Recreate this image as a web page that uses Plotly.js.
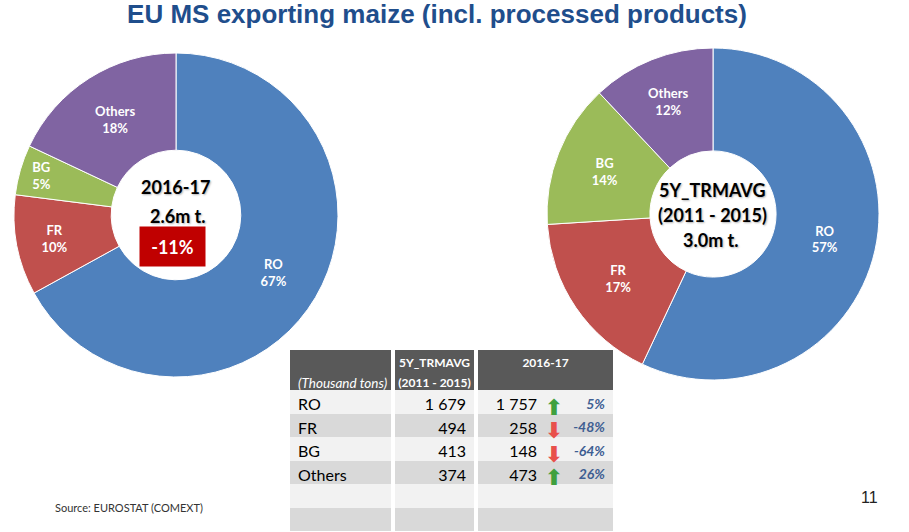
<!DOCTYPE html>
<html><head><meta charset="utf-8">
<script src="https://cdn.plot.ly/plotly-3.0.1.min.js"></script>
<style>html,body{margin:0;padding:0;background:#fff;} #chart{width:909px;height:532px;}</style>
</head><body><div id="chart"></div>
<script>
// ---- data ----
const categories = ["RO", "FR", "BG", "Others"];
const share201617 = [67, 10, 5, 18];     // % shares shown in the left donut
const share5y = [57, 17, 14, 12];        // % shares shown in the right donut
const avg5y = [1679, 494, 413, 374];     // 5Y_TRMAVG (2011-2015), thousand tons
const val201617 = [1757, 258, 148, 473]; // 2016-17, thousand tons
const changeLabels = ["5%", "-48%", "-64%", "26%"];
const centerLeft = ["2016-17", "2.6m t.", "-11%"];
const centerRight = ["5Y_TRMAVG", "(2011 - 2015)", "3.0m t."];
const headerLabels = ["(Thousand tons)", "5Y_TRMAVG", "(2011 - 2015)", "2016-17"];

// ---- styles ----
const sliceColors = ["#4F81BD", "#C0504D", "#9BBB59", "#8064A2"];
const W = 909, H = 532;
const px = x => x / W;
const py = y => 1 - y / H;
const NB = "\u00A0";
const nb = s => s.replace(/ /g, NB);
const fmt = n => String(n).replace(/\B(?=(\d{3})+(?!\d))/g, NB);
const rowFills = ["#F2F2F2", "#D9D9D9", "#F2F2F2", "#D9D9D9", "#F2F2F2", "#D9D9D9"];
const pad2 = arr => arr.concat(["", ""]);
const noLine = {width: 0, color: "rgba(0,0,0,0)"};

const pieCommon = {
  type: "pie", sort: false, direction: "clockwise", rotation: 0,
  labels: categories, texttemplate: "%{label}<br>%{value}%",
  textposition: "inside", insidetextorientation: "horizontal",
  marker: {colors: sliceColors, line: {color: "#ffffff", width: 1}},
  textfont: {family: "Lato", size: 13, color: "#ffffff", weight: "bold"},
  showlegend: false, hoverinfo: "none"
};

const pieLeft = Object.assign({}, pieCommon, {
  values: share201617, hole: 0.40,
  domain: {x: [px(14), px(338)], y: [py(377), py(53)]}
});
const pieRight = Object.assign({}, pieCommon, {
  values: share5y, hole: 0.38,
  domain: {x: [px(547), px(879)], y: [py(380), py(48)]}
});

const tblY = [0, py(350)];
const headerFill = "#595959";
const bodyFont = {family: "Lato", size: 16, color: "#000000"};

const t1 = {
  type: "table", domain: {x: [px(290), px(392)], y: tblY},
  header: {values: [["", nb(headerLabels[0])]], align: "left", height: 20,
           fill: {color: headerFill}, line: noLine,
           font: {family: "Lato", size: 13.5, color: "#ffffff", style: "italic"}},
  cells: {values: [pad2(categories)], align: "left", height: 23.5,
          fill: {color: [rowFills]}, line: noLine, font: bodyFont}
};
const t2 = {
  type: "table", domain: {x: [px(395), px(475)], y: tblY},
  header: {values: [[nb(headerLabels[1]), nb(headerLabels[2])]], align: "center", height: 20,
           fill: {color: headerFill}, line: noLine,
           font: {family: "Lato", size: 12, color: "#ffffff", weight: "bold"}},
  cells: {values: [pad2(avg5y.map(fmt))], align: "right", height: 23.5,
          fill: {color: [rowFills]}, line: noLine, font: bodyFont}
};
const t3 = {
  type: "table", domain: {x: [px(478), px(613)], y: tblY},
  header: {values: [[headerLabels[3]]], align: "center", height: 40,
           fill: {color: headerFill}, line: noLine,
           font: {family: "Lato", size: 12, color: "#ffffff", weight: "bold"}},
  cells: {values: [["", "", "", "", "", ""]], align: "right", height: 23.5,
          fill: {color: [rowFills]}, line: noLine, font: bodyFont}
};
const arrows = val201617.map((v, i) => v >= avg5y[i] ? "⬆" : "⬇");
const arrowColors = val201617.map((v, i) => v >= avg5y[i] ? "#3FA03F" : "#E8504B");
const t4 = {
  type: "table", domain: {x: [px(478), px(613)], y: tblY},
  columnwidth: [67, 18, 50],
  header: {values: ["", "", ""], height: 40, fill: {color: "rgba(0,0,0,0)"}, line: noLine},
  cells: {values: [pad2(val201617.map(fmt)), pad2(arrows), pad2(changeLabels)],
          align: ["right", "center", "right"], height: 23.5,
          fill: {color: "rgba(0,0,0,0)"}, line: noLine,
          font: {family: ["Lato", "DejaVu Sans", "Lato"], size: [16, 22, 14],
                 weight: ["normal", "bold", "bold"], style: ["normal", "normal", "italic"],
                 color: ["#000000", pad2(arrowColors), "#3E5E92"]}}
};

const ctrFont = {family: "Lato", size: 18, color: "#000000", weight: "bold", shadow: "1px 1px 2px rgba(0,0,0,0.3)"};
const ann = (text, x, y, extra) => Object.assign({
  text: text, x: px(x), y: py(y), xref: "paper", yref: "paper",
  xanchor: "center", yanchor: "middle", showarrow: false, font: ctrFont
}, extra || {});

const annotations = [
  ann(centerLeft[0], 175, 187),
  ann(centerLeft[1], 178, 216),
  ann(centerLeft[2], 172.5, 246.5, {bgcolor: "#C00000", width: 63, height: 37,
      font: {family: "Lato", size: 18, color: "#ffffff", weight: "bold"}}),
  ann(centerRight[0], 712, 190),
  ann(centerRight[1], 712, 215),
  ann(centerRight[2], 711, 240),
  ann("Source: EUROSTAT (COMEXT)", 53, 507, {xanchor: "left",
      font: {family: "Lato", size: 11, color: "#333333"}}),
  ann("11", 869, 497, {font: {family: "Liberation Sans, Arial", size: 16, color: "#222222"}})
];

const layout = {
  width: W, height: H, margin: {l: 0, r: 0, t: 0, b: 0},
  paper_bgcolor: "#ffffff",
  title: {text: "EU MS exporting maize (incl. processed products)",
          font: {family: "Liberation Sans, Arial", size: 26, color: "#1F4E8C", weight: "bold"},
          x: px(437), xanchor: "center", xref: "paper", y: 1 - 14 / H, yanchor: "middle", yref: "container"},
  annotations: annotations
};

Plotly.newPlot("chart", [pieLeft, pieRight, t1, t2, t3, t4], layout, {displayModeBar: false, staticPlot: true});
</script>
</body></html>
